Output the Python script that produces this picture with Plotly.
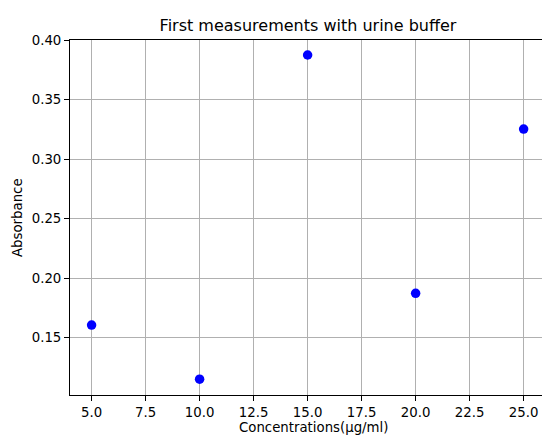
import plotly.graph_objects as go

# Measured absorbance of the urine-buffer samples
concentrations = [5, 10, 15, 20, 25]
absorbance = [0.1607, 0.1152, 0.3877, 0.1874, 0.3254]

x_ticks = [5.0, 7.5, 10.0, 12.5, 15.0, 17.5, 20.0, 22.5, 25.0]
y_ticks = [0.15, 0.20, 0.25, 0.30, 0.35, 0.40]

W, H = 542, 436
M_L, M_R, M_T, M_B = 70, 0, 40, 41
FONT = "DejaVu Sans"

fig = go.Figure(
    go.Scatter(
        x=concentrations,
        y=absorbance,
        mode="markers",
        marker=dict(color="blue", size=9.5, line=dict(width=0)),
        showlegend=False,
    )
)

axis_common = dict(
    showgrid=True,
    gridcolor="#b0b0b0",
    gridwidth=1,
    zeroline=False,
    showline=True,
    linecolor="black",
    linewidth=1,
    ticks="outside",
    ticklen=5,
    tickwidth=1,
    tickcolor="black",
    tickfont=dict(family=FONT, size=13.3, color="black"),
)

fig.update_xaxes(
    range=[4, 25.85],
    tickvals=x_ticks,
    tickformat=".1f",
    mirror=True,
    ticklabelstandoff=0,
    **axis_common,
)
fig.update_yaxes(
    range=[0.1019, 0.4003],
    tickvals=y_ticks,
    tickformat=".2f",
    mirror=False,
    **axis_common,
)

fig.update_layout(
    width=W,
    height=H,
    margin=dict(l=M_L, r=M_R, t=M_T, b=M_B, pad=0),
    paper_bgcolor="white",
    plot_bgcolor="white",
    font=dict(family=FONT, color="black"),
    title=dict(
        text="First measurements with urine buffer",
        font=dict(family=FONT, size=16, color="black"),
        x=308 / W,
        xref="container",
        xanchor="center",
        y=1 - 25 / H,
        yref="container",
        yanchor="middle",
    ),
    annotations=[
        dict(
            text="Concentrations(µg/ml)",
            xref="paper",
            yref="paper",
            x=(313 - M_L) / (W - M_L - M_R),
            y=(H - M_B - 427) / (H - M_T - M_B),
            xanchor="center",
            yanchor="middle",
            showarrow=False,
            font=dict(family=FONT, size=13.3, color="black"),
        ),
        dict(
            text="Absorbance",
            xref="paper",
            yref="paper",
            x=(17.5 - M_L) / (W - M_L - M_R),
            y=0.5,
            xanchor="center",
            yanchor="middle",
            textangle=-90,
            showarrow=False,
            font=dict(family=FONT, size=13.3, color="black"),
        ),
    ],
)

fig.write_html("out.html")
